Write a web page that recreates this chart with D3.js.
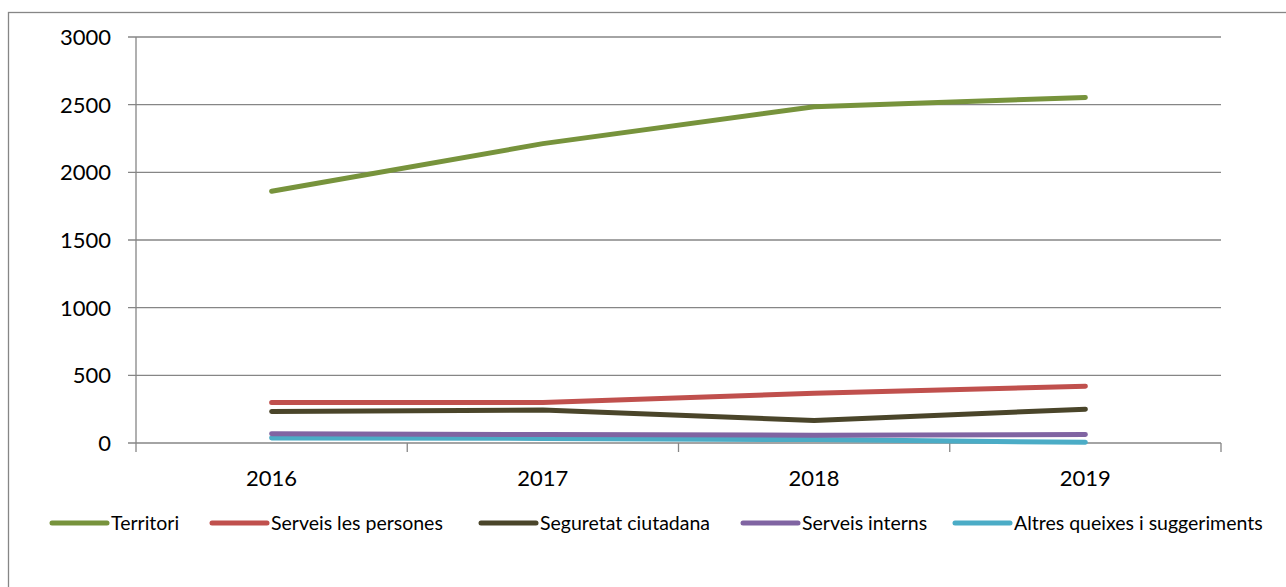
<!DOCTYPE html>
<html>
<head>
<meta charset="utf-8">
<script src="https://cdn.jsdelivr.net/npm/d3@7"></script>
<style>
  html, body { margin: 0; padding: 0; background: #fff; }
  svg { display: block; }
</style>
</head>
<body>
<div id="chart"></div>
<script>
// ========= DATA =========
const years = ["2016", "2017", "2018", "2019"];
const yTicks = [0, 500, 1000, 1500, 2000, 2500, 3000];

const seriesNames = ["Territori", "Serveis les persones", "Seguretat ciutadana", "Serveis interns", "Altres queixes i suggeriments"];
const territori   = [1860, 2212, 2485, 2553];
const serveisPers = [300, 300, 367, 420];
const seguretat   = [232, 243, 166, 250];
const serveisInt  = [68, 63, 58, 62];
const altres      = [37, 34, 25, 5];

const colors = ["#77933C", "#C0504D", "#4A452A", "#8064A2", "#4BACC6"];

// ========= LAYOUT =========
const W = 1286, H = 587;
const plot = { left: 136, right: 1221, top: 37, bottom: 443 };
const FONT = "Lato, 'Open Sans', sans-serif";

const svg = d3.select("#chart").append("svg")
  .attr("width", W).attr("height", H);

// marco exterior
svg.append("rect")
  .attr("x", 8.5).attr("y", 12.5)
  .attr("width", 1300).attr("height", 600)
  .attr("fill", "none").attr("stroke", "#868686").attr("stroke-width", 1.3);

const x = d3.scaleBand().domain(years).range([plot.left, plot.right]);
const y = d3.scaleLinear().domain([0, 3000]).range([plot.bottom, plot.top]);

// grid
svg.append("g").selectAll("line").data(yTicks).join("line")
  .attr("x1", plot.left - 8).attr("x2", plot.right)
  .attr("y1", d => y(d)).attr("y2", d => y(d))
  .attr("stroke", "#868686").attr("stroke-width", 1.3);

// eje y
svg.append("line")
  .attr("x1", plot.left).attr("x2", plot.left)
  .attr("y1", plot.top).attr("y2", plot.bottom)
  .attr("stroke", "#868686").attr("stroke-width", 1.3);

svg.append("g").selectAll("text").data(yTicks).join("text")
  .attr("x", 111).attr("y", d => y(d))
  .attr("dy", "0.36em")
  .attr("text-anchor", "end")
  .attr("font-family", FONT)
  .attr("font-size", 22)
  .text(d => d);

// eje x: ticks en los limites de categoria
const bounds = years.map(d => x(d)).concat([x.range()[1]]);
svg.append("g").selectAll("line").data(bounds).join("line")
  .attr("x1", d => d).attr("x2", d => d)
  .attr("y1", plot.bottom).attr("y2", plot.bottom + 9)
  .attr("stroke", "#868686").attr("stroke-width", 1.3);

svg.append("g").selectAll("text").data(years).join("text")
  .attr("x", d => x(d) + x.bandwidth() / 2)
  .attr("y", 478)
  .attr("dy", "0.36em")
  .attr("text-anchor", "middle")
  .attr("font-family", FONT)
  .attr("font-size", 22)
  .text(d => d);

// lineas
const allSeries = [territori, serveisPers, seguretat, serveisInt, altres];
const line = d3.line()
  .x((d, i) => x(years[i]) + x.bandwidth() / 2)
  .y(d => y(d));

// se dibujan en orden inverso para que la primera quede encima
allSeries.map((s, i) => ({ s, i })).reverse().forEach(({ s, i }) => {
  svg.append("path")
    .datum(s)
    .attr("d", line)
    .attr("fill", "none")
    .attr("stroke", colors[i])
    .attr("stroke-width", 5)
    .attr("stroke-linecap", "round")
    .attr("stroke-linejoin", "round");
});

// leyenda
const legendX = [52, 212, 481, 743, 955];
const lg = svg.append("g");
seriesNames.forEach((name, i) => {
  const g = lg.append("g").attr("transform", `translate(${legendX[i]},523)`);
  g.append("line")
    .attr("x1", 0).attr("x2", 55)
    .attr("stroke", colors[i]).attr("stroke-width", 5)
    .attr("stroke-linecap", "round");
  g.append("text")
    .attr("x", 59).attr("dy", "0.35em")
    .attr("font-family", FONT)
    .attr("font-size", 19.5)
    .text(name);
});
</script>
</body>
</html>
